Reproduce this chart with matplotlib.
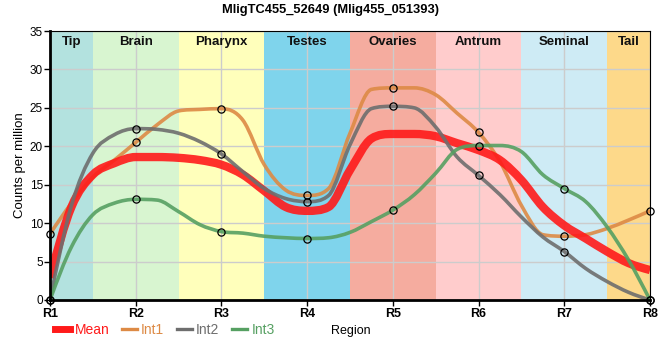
import numpy as np
import matplotlib
matplotlib.use("Agg")
import matplotlib.pyplot as plt
from matplotlib.path import Path
from matplotlib.patches import PathPatch
from matplotlib.lines import Line2D

plt.rcParams['font.family'] = ['Liberation Sans', 'DejaVu Sans']

# ---- data ----
regions = ['R1', 'R2', 'R3', 'R4', 'R5', 'R6', 'R7', 'R8']
tissues = ['Tip', 'Brain', 'Pharynx', 'Testes', 'Ovaries', 'Antrum', 'Seminal', 'Tail']
tissue_colors = ['#b3e2df', '#d8f5d0', '#ffffbb', '#7fd4ec', '#f5ac9f', '#ffcccc', '#ceebf5', '#fdd98a']

# curve values read every quarter region (every 4th value sits on a region R1..R8)
steps_per_region = 4
mean_curve = [2.9, 12.1, 16.3, 17.8, 18.6, 18.6, 18.5, 18.2, 17.6, 16.3, 14.2, 12.1, 11.6,
              12.1, 16.9, 21.0, 21.6, 21.6, 21.3, 20.4, 19.5, 18.2, 15.6, 12.1, 9.7,
              8.0, 6.3, 4.8, 3.9]
int1_curve = [8.6, 12.6, 16.0, 18.2, 20.5, 22.8, 24.6, 24.8, 24.9, 23.4, 17.6, 14.3, 13.6,
              14.5, 21.7, 27.4, 27.6, 27.6, 26.7, 24.3, 21.8, 18.0, 12.3, 8.5, 8.3,
              8.5, 9.3, 10.4, 11.6]
int2_curve = [0.0, 12.3, 19.1, 21.5, 22.3, 22.2, 21.7, 20.6, 19.0, 16.7, 14.5, 13.2, 12.8,
              13.6, 20.2, 24.9, 25.2, 25.0, 22.5, 18.6, 16.2, 13.7, 10.8, 8.2, 6.3,
              4.1, 2.4, 1.0, 0.0]
int3_curve = [0.0, 6.9, 11.1, 12.6, 13.1, 13.0, 11.5, 9.8, 8.9, 8.7, 8.3, 8.1, 8.0,
              8.1, 8.8, 10.2, 11.7, 13.7, 16.5, 19.6, 20.1, 20.1, 19.3, 16.3, 14.5,
              12.8, 9.5, 5.2, 0.0]

series = [
    ('Int1', int1_curve, '#dd8a45', 2.6, 0.9, 3, True),
    ('Mean', mean_curve, '#ff1a1a', 6.0, 0.9, 4, False),
    ('Int2', int2_curve, '#6e6e6e', 2.6, 0.9, 5, True),
    ('Int3', int3_curve, '#56a062', 2.6, 0.9, 6, True),
]
legend_order = ['Mean', 'Int1', 'Int2', 'Int3']


def tangents(xs, ys):
    xs = np.asarray(xs, float)
    ys = np.asarray(ys, float)
    h = np.diff(xs)
    d = np.diff(ys) / h
    n = len(xs)
    m = np.zeros(n)
    for k in range(1, n - 1):
        if d[k - 1] * d[k] <= 0:
            m[k] = 0.0
        else:
            c = (ys[k + 1] - ys[k - 1]) / (xs[k + 1] - xs[k - 1])
            lim = 3 * min(abs(d[k - 1]), abs(d[k]))
            m[k] = np.sign(c) * min(abs(c), lim)
    m[0] = 1.5 * d[0] - 0.5 * m[1]
    if m[0] * d[0] < 0:
        m[0] = 0.0
    m[-1] = 1.5 * d[-1] - 0.5 * m[-2]
    if m[-1] * d[-1] < 0:
        m[-1] = 0.0
    return m


def smooth_path(xs, ys):
    m = tangents(xs, ys)
    verts = [(xs[0], ys[0])]
    codes = [Path.MOVETO]
    for i in range(len(xs) - 1):
        dx = (xs[i + 1] - xs[i]) / 3
        verts += [(xs[i] + dx, ys[i] + m[i] * dx),
                  (xs[i + 1] - dx, ys[i + 1] - m[i + 1] * dx),
                  (xs[i + 1], ys[i + 1])]
        codes += [Path.CURVE4] * 3
    return Path(verts, codes)


W, H = 660, 360
fig = plt.figure(figsize=(W / 100, H / 100), dpi=100)
ax = fig.add_axes([50 / W, (H - 300) / H, 600 / W, 269 / H])

x = np.arange(len(regions))
ax.set_xlim(0, len(regions) - 1)
ax.set_ylim(0, 35)

# tissue bands
for i, (t, c) in enumerate(zip(tissues, tissue_colors)):
    lo = max(i - 0.5, 0)
    hi = min(i + 0.5, len(regions) - 1)
    ax.axvspan(lo, hi, color=c, lw=0, zorder=0)
    ax.text((lo + hi) / 2, 33.6, t, ha='center', va='center',
            fontsize=9.5, fontweight='bold', color='#111111', zorder=8)

ax.grid(True, color='#cccccc', lw=1, zorder=1)
ax.set_axisbelow(False)
for gl in ax.get_xgridlines() + ax.get_ygridlines():
    gl.set_zorder(1)

for name, curve, col, lw, alpha, z, markers in series:
    xs = [k / steps_per_region for k in range(len(curve))]
    patch = PathPatch(smooth_path(xs, list(curve)), fill=False, edgecolor=col, lw=lw,
                      alpha=alpha, zorder=z, capstyle='butt', joinstyle='round')
    ax.add_patch(patch)
    if markers:
        ax.plot(x, curve[::steps_per_region], ls='none', marker='o', ms=5.2, mfc='none',
                mec='black', mew=0.9, zorder=7, clip_on=False)

ax.set_xticks(x)
ax.set_xticklabels(regions, fontsize=9, fontweight='bold')
ax.set_yticks(np.arange(0, 36, 5))
ax.set_yticklabels([str(v) for v in range(0, 36, 5)], fontsize=8.5)
ax.tick_params(axis='x', length=4, width=1, pad=2)
ax.tick_params(axis='y', length=4, width=1, pad=1)

for sp in ['left', 'bottom']:
    ax.spines[sp].set_linewidth(2)
for sp in ['top', 'right']:
    ax.spines[sp].set_linewidth(0.8)
for sp in ax.spines.values():
    sp.set_zorder(9)

fig.text(0.5, 1 - 10 / H, 'MligTC455_52649 (Mlig455_051393)', ha='center', va='center',
         fontsize=9.3, fontweight='bold')
fig.text(20 / W, 1 - 165 / H, 'Counts per million', rotation=90, ha='center', va='center',
         fontsize=9.5)
fig.text(351 / W, 1 - 331 / H, 'Region', ha='center', va='center', fontsize=9)

style = {s[0]: s for s in series}
handles = []
for nm in legend_order:
    s = style[nm]
    handles.append(Line2D([0], [0], color=s[2], lw=(5 if nm == 'Mean' else 2.4)))
leg = fig.legend(handles, legend_order, loc='center left', bbox_to_anchor=(55 / W, 1 - 330 / H),
                 ncol=4, frameon=False, borderpad=0, borderaxespad=0, handlelength=1.1,
                 handletextpad=0.3, columnspacing=0.9, fontsize=10, labelcolor='linecolor')

fig.savefig('out.png', dpi=100)
